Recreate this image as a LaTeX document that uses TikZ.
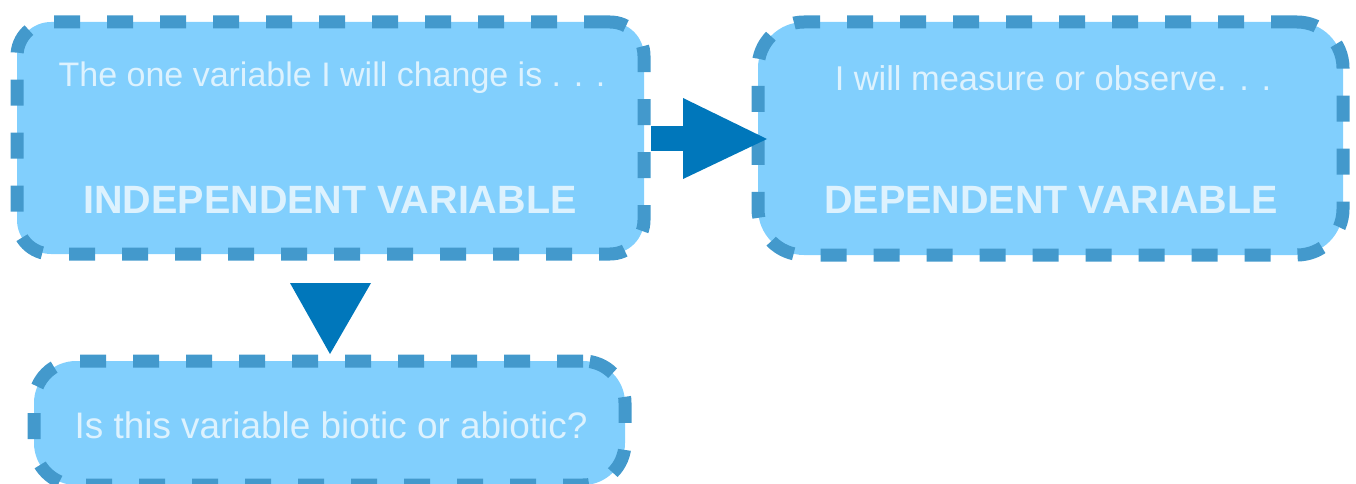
\documentclass[tikz,border=0pt]{standalone}
\usepackage{fontspec}
\setmainfont{Liberation Sans}
\usetikzlibrary{calc}
\definecolor{boxfill}{HTML}{81CFFD}
\definecolor{boxdash}{HTML}{4399CC}
\definecolor{arrowc}{HTML}{0077BB}
\definecolor{txtc}{HTML}{DDF2FE}
\tikzset{
  vbox/.style={draw=boxdash, fill=boxfill, line width=13pt, dash pattern=on 26pt off 27pt, inner sep=0pt, outer sep=0pt},
  handtxt/.style={text=txtc, inner sep=0pt, anchor=center},
  boldtxt/.style={text=txtc, inner sep=0pt, anchor=center, font=\bfseries\fontsize{39.5}{44}\selectfont},
  arrowfill/.style={fill=arrowc}
}
\begin{document}
\begin{tikzpicture}[x=1pt,y=-1pt]
\useasboundingbox (0,0) rectangle (1356,484);
\node[vbox, rounded corners=34pt, minimum width=627pt, minimum height=232pt] (b1) at (330.5,138) {};
\node[vbox, rounded corners=46pt, minimum width=585pt, minimum height=233pt] (b2) at (1050.5,138.5) {};
\node[vbox, rounded corners=42pt, minimum width=591pt, minimum height=124pt] (b3) at (329.5,423) {};
\node[handtxt, font=\fontsize{34}{40}\selectfont] (t1) at (332,78) {The one variable I will change is . . .};
\node[boldtxt] (t2) at (330,200) {INDEPENDENT VARIABLE};
\node[handtxt, font=\fontsize{34.4}{40}\selectfont] (t3) at (1053,78) {I will measure or observe. . .};
\node[boldtxt] (t4) at (1051,200) {DEPENDENT VARIABLE};
\node[handtxt, font=\fontsize{36.9}{42}\selectfont] (t5) at (331,425) {Is this variable biotic or abiotic?};
% right arrow
\coordinate (rtip) at ($(b2.west)+(9,0.5)$);
\fill[arrowfill] ($(b1.east)+(7,-12)$) rectangle ($(b2.west)+(-70,12.5)$);
\fill[arrowfill] ($(rtip)+(-84,-41)$) -- (rtip) -- ($(rtip)+(-84,40)$) -- cycle;
% down arrow
\coordinate (dtip) at ($(b3.north)+(0.5,-7)$);
\fill[arrowfill] ($(dtip)+(-40,-71)$) -- (dtip) -- ($(dtip)+(41,-71)$) -- cycle;
\end{tikzpicture}
\end{document}
